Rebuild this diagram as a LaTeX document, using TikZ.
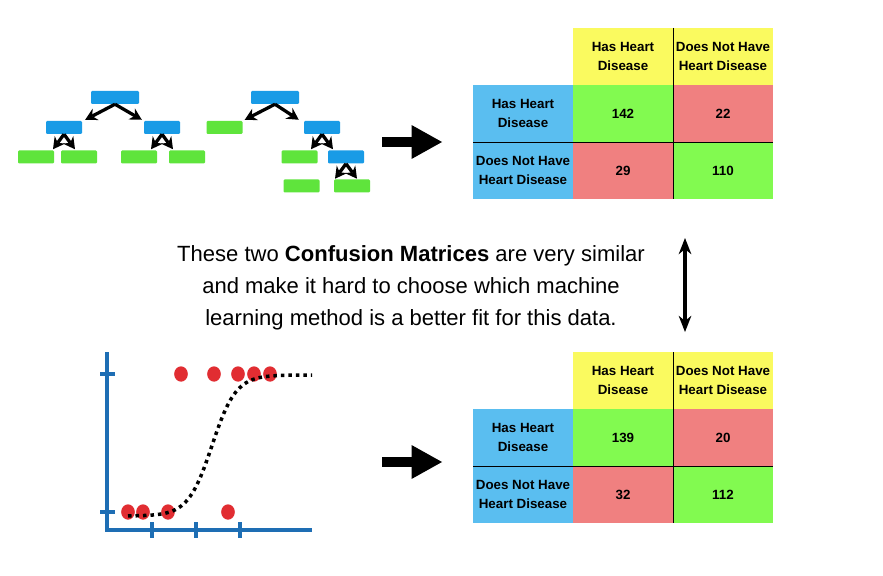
\documentclass[tikz,border=0pt]{standalone}
\usepackage{fontspec}
\setmainfont{Liberation Sans}
\usetikzlibrary{arrows.meta,positioning,calc}
\definecolor{treeblue}{RGB}{25,155,230}
\definecolor{treegreen}{RGB}{95,228,60}
\definecolor{headyellow}{RGB}{250,250,95}
\definecolor{cellgreen}{RGB}{130,250,80}
\definecolor{cellred}{RGB}{240,128,128}
\definecolor{rowblue}{RGB}{90,190,240}
\definecolor{axisblue}{RGB}{30,110,180}
\definecolor{dotred}{RGB}{225,45,50}

\begin{document}
\begin{tikzpicture}[x=0.3mm, y=-0.3mm,
    split/.style={rectangle, fill=treeblue, minimum width=10.8mm, minimum height=3.9mm,
                  inner sep=0pt, rounded corners=1pt},
    rootsplit/.style={split, minimum width=14.4mm},
    leaf/.style={split, fill=treegreen},
    treearrow/.style={-{Stealth[length=10pt,width=11pt,line width=0pt]}, line width=2.8pt},
    bigarrow/.style={-{Triangle[length=26pt,width=29pt,line width=0pt]}, line width=8.5pt},
    vsarrow/.style={{Stealth[length=14pt,width=11pt,line width=0pt]}-{Stealth[length=14pt,width=11pt,line width=0pt]}, line width=2.6pt},
    cell/.style={rectangle, minimum width=30mm, minimum height=17.1mm, inner sep=0pt,
                 outer sep=0pt, align=center, font=\fontsize{11.4}{15.5}\selectfont\bfseries},
    gridline/.style={black, line width=0.8pt},
    axisline/.style={axisblue, line width=3.8pt},
    sigmoid/.style={line width=3pt, dash pattern=on 3pt off 3.4pt}
  ]
  \fill[white] (0,0) rectangle (883,576);
  \useasboundingbox (0,0) rectangle (883,576);

  % first tree
  \node[rootsplit] (ta) at (115,97.5) {};
  \node[split] (ta1) at (64,127.5) {};
  \node[split] (ta2) at (162,127.5) {};
  \node[leaf] (ta11) at (36,157) {};
  \node[leaf] (ta12) at (79,157) {};
  \node[leaf] (ta21) at (139,157) {};
  \node[leaf] (ta22) at (187,157) {};
  \draw[treearrow] (ta.south) -- ($(ta1.north east)+(3,-1)$);
  \draw[treearrow] (ta.south) -- ($(ta2.north west)+(-2,-1)$);
  \foreach \n in {ta1,ta2}{
    \draw[treearrow] (\n.south) -- ($(\n.south)+(-11,15)$);
    \draw[treearrow] (\n.south) -- ($(\n.south)+(11,15)$);
  }

  % second tree
  \node[rootsplit] (tb) at (275,97.5) {};
  \node[leaf] (tb1) at (224.5,127.5) {};
  \node[split] (tb2) at (322,127.5) {};
  \node[leaf] (tb21) at (299.5,157) {};
  \node[split] (tb22) at (346,157) {};
  \node[leaf] (tb221) at (301.5,186) {};
  \node[leaf] (tb222) at (352,186) {};
  \draw[treearrow] (tb.south) -- ($(tb1.north east)+(2,-1)$);
  \draw[treearrow] (tb.south) -- ($(tb2.north west)+(-5,-1)$);
  \foreach \n in {tb2,tb22}{
    \draw[treearrow] (\n.south) -- ($(\n.south)+(-11,15)$);
    \draw[treearrow] (\n.south) -- ($(\n.south)+(11,15)$);
  }

  % logistic regression
  \draw[axisline] (107,352) -- (107,530) -- (312,530);
  \foreach \ty in {374,512} \draw[axisline] (100,\ty) -- (115,\ty);
  \foreach \tx in {152,196,240} \draw[axisline] (\tx,522) -- (\tx,538);
  \foreach \dx in {181,214,238,254,270}
    \fill[dotred] (\dx,374) ellipse[x radius=2.05mm, y radius=2.3mm];
  \foreach \dx in {128,143,168,228}
    \fill[dotred] (\dx,512) ellipse[x radius=2.05mm, y radius=2.3mm];
  \draw[sigmoid] plot[domain=128:312, samples=90, smooth] (\x,{516-141/(1+exp(-(\x-212)/12))});

  % arrows to the matrices
  \coordinate (a1) at (382,142);
  \coordinate (a1e) at (442,142);
  \coordinate (a2) at (382,462);
  \coordinate (a2e) at (442,462);
  \draw[bigarrow] (a1) -- (a1e);
  \draw[bigarrow] (a2) -- (a2e);

  % confusion matrices
  \foreach \t/\yy/\tp/\fn/\fp/\tn in {1/0/142/22/29/110, 2/324/139/20/32/112}{
    \node[cell, fill=headyellow] (m\t-h1) at (623,{56.5+\yy}) {Has Heart\\Disease};
    \node[cell, fill=headyellow, right=0pt of m\t-h1] (m\t-h2) {Does Not Have\\Heart Disease};
    \node[cell, fill=cellgreen, below=0pt of m\t-h1] (m\t-tp) {\tp};
    \node[cell, fill=cellred, right=0pt of m\t-tp] (m\t-fn) {\fn};
    \node[cell, fill=cellred, below=0pt of m\t-tp] (m\t-fp) {\fp};
    \node[cell, fill=cellgreen, right=0pt of m\t-fp] (m\t-tn) {\tn};
    \node[cell, fill=rowblue, left=0pt of m\t-tp] (m\t-r1) {Has Heart\\Disease};
    \node[cell, fill=rowblue, left=0pt of m\t-fp] (m\t-r2) {Does Not Have\\Heart Disease};
    \draw[gridline] (m\t-h2.north west) -- (m\t-tn.south west);
    \draw[gridline] (m\t-r2.north west) -- (m\t-tn.north east);
  }

  % comparison
  \coordinate (v1) at (685,238);
  \coordinate (v2) at (685,332);
  \draw[vsarrow] (v1) -- (v2);
  \node[font=\fontsize{18.8}{27.5}\selectfont, align=center] (caption) at (411,288)
    {These two \textbf{Confusion Matrices} are very similar\\and make it hard to choose which machine\\learning method is a better fit for this data.};
\end{tikzpicture}
\end{document}
